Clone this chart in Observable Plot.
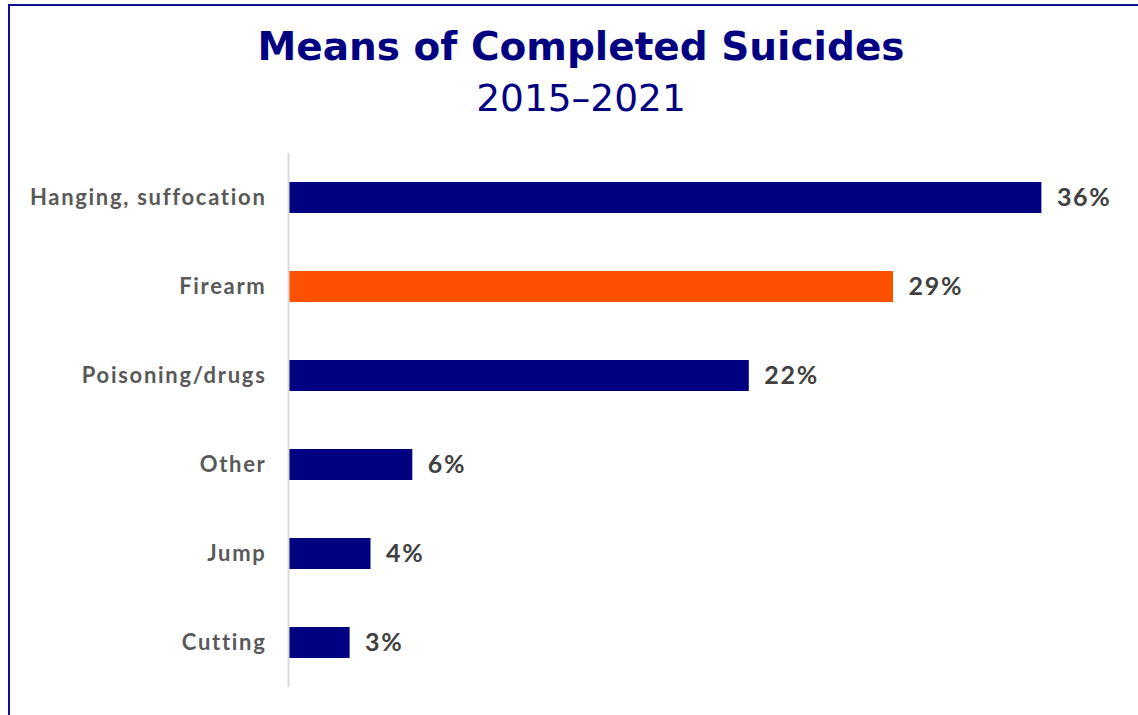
<!DOCTYPE html>
<html>
<head>
<meta charset="utf-8">
<script src="https://cdn.jsdelivr.net/npm/d3@7"></script>
<script src="https://cdn.jsdelivr.net/npm/@observablehq/plot@0.6"></script>
<style>
  html, body { margin: 0; padding: 0; background: #fff; width: 1138px; height: 715px; overflow: hidden; }
  #frame { position: absolute; left: 8px; top: 4px; width: 1146px; height: 730px; border: 2px solid #10108f; box-sizing: border-box; }
  #title { position: absolute; left: 8px; width: 1146px; top: 22px; text-align: center; font-family: "DejaVu Sans", sans-serif; font-weight: bold; font-size: 39px; line-height: 50px; color: #000080; }
  #subtitle { position: absolute; left: 8px; width: 1146px; top: 76px; text-align: center; font-family: "DejaVu Sans", sans-serif; font-size: 37.5px; line-height: 44px; color: #000080; }
  #chart { position: absolute; left: 0; top: 0; }
</style>
</head>
<body>
<div id="frame"></div>
<div id="title">Means of Completed Suicides</div>
<div id="subtitle">2015–2021</div>
<div id="chart"></div>
<script>
const categories = ["Hanging, suffocation", "Firearm", "Poisoning/drugs", "Other", "Jump", "Cutting"];
const values = [36, 28.9, 22, 5.9, 3.9, 2.9];
const valueLabels = ["36%", "29%", "22%", "6%", "4%", "3%"];
const highlighted = "Firearm";

const data = categories.map((c, i) => ({category: c, value: values[i], label: valueLabels[i]}));

const chart = Plot.plot({
  width: 1138,
  height: 715,
  marginTop: 153,
  marginBottom: 28,
  marginLeft: 289,
  marginRight: 13,
  style: {background: "transparent", fontFamily: "Lato, 'DejaVu Sans', sans-serif", letterSpacing: "1.7px"},
  x: {domain: [0, 40], axis: null},
  y: {domain: categories, paddingInner: 0.652, paddingOuter: 0.326, label: null},
  marks: [
    Plot.barX(data, {x: "value", y: "category", fill: d => d.category === highlighted ? "#FF5000" : "#000080"}),
    Plot.ruleX([0], {stroke: "#d9d9d9", strokeWidth: 2, dx: -1}),
    Plot.axisY({tickSize: 0, tickPadding: 23, fontSize: 22, fontWeight: "bold", fill: "#595959", label: null}),
    Plot.text(data, {x: "value", y: "category", text: "label", dx: 15, textAnchor: "start", fontSize: 25, fontWeight: "bold", fill: "#404040"})
  ]
});
document.getElementById("chart").appendChild(chart);
</script>
</body>
</html>
